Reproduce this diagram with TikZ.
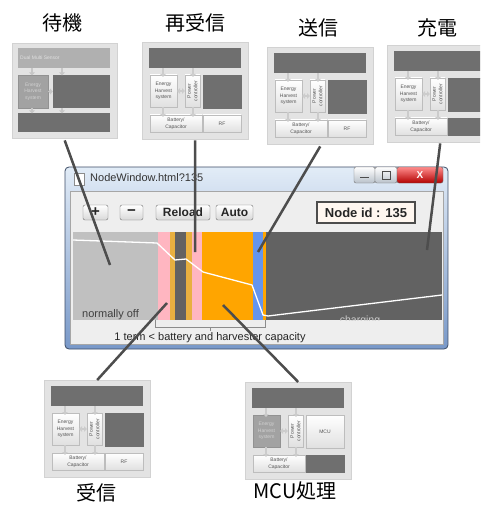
\documentclass[tikz,border=0pt]{standalone}
\usepackage{fontspec}
\setmainfont{Liberation Sans}
\newfontfamily\cjkfont{Noto Sans CJK JP}
\usetikzlibrary{arrows.meta}
\definecolor{thbg}{HTML}{E3E3E3}
\definecolor{thborder}{HTML}{D2D2D2}
\definecolor{thdarkc}{HTML}{6F6F6F}
\definecolor{thgrayc}{HTML}{A2A2A2}
\definecolor{thlightb}{HTML}{BDBDBD}
\definecolor{tharrowc}{HTML}{CCCCCC}
\definecolor{thtextc}{HTML}{555555}
\definecolor{conncol}{HTML}{4D4D4D}
\definecolor{cgray}{HTML}{C0C0C0}
\definecolor{cpink}{HTML}{FFB6C1}
\definecolor{corange}{HTML}{FFA500}
\definecolor{cgold}{HTML}{E8B040}
\definecolor{cdark}{HTML}{626262}
\definecolor{cblue}{HTML}{6495ED}
\definecolor{clientbg}{HTML}{EEEEEE}
\definecolor{frametop}{HTML}{E2ECF7}
\definecolor{framebot}{HTML}{7898C8}
\definecolor{frameedge}{HTML}{3C4C66}
\tikzset{
  thumbouter/.style={draw=thborder, fill=thbg, minimum width=106pt, minimum height=97pt, inner sep=0pt, anchor=north west},
  thl/.style={draw=thlightb, top color=white, bottom color=black!12},
  thd/.style={fill=thdarkc, draw=thdarkc},
  thg/.style={fill=thgrayc, draw=thgrayc!90!black},
  thltext/.style={font=\fontsize{5}{6.5}\selectfont, align=center, text=thtextc, inner sep=0pt},
  thgtext/.style={font=\fontsize{5}{6.5}\selectfont, align=center, text=black!18, inner sep=0pt},
  thdtext/.style={font=\fontsize{5}{6.5}\selectfont, align=center, text=black!18, inner sep=0pt},
  blockarr/.style={line width=2.6pt, draw=tharrowc, -{Triangle[width=5.5pt,length=3pt]}},
  blockdbl/.style={line width=2.6pt, draw=tharrowc, {Triangle[width=5.5pt,length=3pt]}-{Triangle[width=5.5pt,length=3pt]}},
  conn/.style={draw=conncol, line width=2.5pt},
  titletext/.style={font=\cjkfont\fontsize{20}{22}\selectfont, text=black, inner sep=0pt},
  tbtn/.style={draw=black!55, rounded corners=2pt, top color=white, bottom color=black!15, font=\bfseries\fontsize{12}{14}\selectfont, text=black!85, inner sep=0pt, minimum height=15pt},
}
% #1 name, #2 x, #3 y, #4 EH style, #5 right style, #6 right label, #7 RF style, #8 RF label
\newcommand\thumbbox[8]{%
\begin{scope}[shift={(#2,#3)}]
  \node[thumbouter] (#1) at (0,0) {};
  \fill[thdarkc] (7,6) rectangle (99,26);
  \path[#4] (8,33) rectangle (35,65);
  \node[#4text] (#1-eh) at (21.5,49) {Energy\\Harvest\\system};
  \path[thl] (43,33) rectangle (58,65);
  \node[thltext, rotate=90] (#1-pc) at (50.5,49) {Power\\controller};
  \path[#5] (61,33) rectangle (99,66);
  \node[thltext] (#1-r) at (80,49.5) {#6};
  \path[thl] (8,73) rectangle (60,90);
  \node[thltext] (#1-bat) at (34,81.5) {Battery/\\Capacitor};
  \path[#7] (61,73) rectangle (99,90);
  \node[thltext] (#1-rf) at (80,81.5) {#8};
  \draw[blockarr] (21,26) -- (21,35);
  \draw[blockarr] (51,26) -- (51,35);
  \draw[blockdbl] (35,49) -- (43,49);
  \draw[blockarr] (21,65) -- (21,75);
  \draw[blockarr] (51,65) -- (51,75);
\end{scope}}
\begin{document}
\begin{tikzpicture}[x=1pt,y=-1pt]
\useasboundingbox (0,0) rectangle (480,505);
\fill[white] (0,0) rectangle (480,505);
\begin{scope}
\clip (0,0) rectangle (480,505);
% titles
\node[titletext] (t-standby) at (62,23) {待機};
\node[titletext] (t-rerecv) at (195,23) {再受信};
\node[titletext] (t-send) at (318,28) {送信};
\node[titletext] (t-charge) at (437,28) {充電};
\node[titletext] (t-recv) at (96,493) {受信};
\node[titletext] (t-mcu) at (295,491) {MCU処理};
% standby thumbnail
\begin{scope}[shift={(12,43)}]
  \node[thumbouter, minimum width=105pt, minimum height=95pt] (standby) at (0,0) {};
  \fill[thgrayc!85!white] (6,5) rectangle (98,25);
  \node[thdtext, anchor=west, text=black!12] (standby-top) at (8,15) {Dual Multi Sensor};
  \path[thg] (6,32) rectangle (36,65);
  \node[thgtext] (standby-eh) at (21,48.5) {Energy\\Harvest\\system};
  \fill[thdarkc] (41,32) rectangle (98,65);
  \fill[thdarkc] (6,70) rectangle (98,89);
  \draw[blockarr, draw=black!22] (20,25) -- (20,32.5);
  \draw[blockarr, draw=black!22] (50,25) -- (50,32.5);
  \draw[blockarr, draw=black!22] (20,65) -- (20,70.5);
  \draw[blockarr, draw=black!22] (50,65) -- (50,70.5);
  \draw[blockdbl, draw=black!22] (36,48.5) -- (41,48.5);
\end{scope}
\thumbbox{rerecv}{142}{42}{thl}{thd}{}{thl}{RF}
\thumbbox{send}{267}{47}{thl}{thd}{}{thl}{RF}
\thumbbox{charge}{387}{45}{thl}{thd}{}{thd}{}
\thumbbox{recv}{44}{380}{thl}{thd}{}{thl}{RF}
\thumbbox{mcu}{245}{382}{thg}{thl}{MCU}{thd}{}
% window
\path[rounded corners=4pt, top color=frametop, bottom color=framebot, draw=frameedge, line width=0.8pt] (65,167) rectangle (448,349);
\filldraw[fill=clientbg, draw=black!35] (70,191) rectangle (443,344);
\filldraw[fill=white, draw=black!45] (74,173) rectangle (84,185);
\node[anchor=west, font=\fontsize{11}{13}\selectfont, text=black!80, inner sep=0pt] (wtitle) at (90,178) {NodeWindow.html?135};
\path[rounded corners=2pt, top color=white, bottom color=black!18!frametop, draw=black!55] (354,167) rectangle (375,183);
\path[rounded corners=2pt, top color=white, bottom color=black!18!frametop, draw=black!55] (375,167) rectangle (397,183);
\path[rounded corners=2pt, top color=red!45!white, bottom color=red!70!black, draw=black!60] (397,167) rectangle (443,183);
\draw[black!70, line width=1.6pt] (360,177.5) -- (369,177.5);
\draw[black!70, line width=1pt] (382,171.5) rectangle (390,179);
\node[font=\bfseries\fontsize{10}{12}\selectfont, text=white, inner sep=0pt] (wclose) at (420,175.5) {X};
% toolbar
\node[tbtn, minimum width=25pt, font=\bfseries\fontsize{15}{15}\selectfont] (bplus) at (95.5,212.5) {+};
\node[tbtn, minimum width=23pt, font=\bfseries\fontsize{15}{15}\selectfont] (bminus) at (131.5,212.5) {−};
\node[tbtn, minimum width=54pt] (breload) at (183,212.5) {Reload};
\node[tbtn, minimum width=37pt] (bauto) at (234.5,212.5) {Auto};
\node[draw=black!70, line width=1.3pt, fill=orange!6, minimum width=98pt, minimum height=21pt, inner sep=0pt, font=\bfseries\fontsize{13}{15}\selectfont, text=black!85] (nodeid) at (366,212.5) {Node id : 135};
% chart
\fill[cgray] (73,232) rectangle (158,320);
\fill[cpink] (158,232) rectangle (170,320);
\fill[cgold] (170,232) rectangle (175,320);
\fill[cdark] (175,232) rectangle (186,320);
\fill[cgold] (186,232) rectangle (192,320);
\fill[cpink] (192,232) rectangle (202,320);
\fill[corange] (202,232) rectangle (253,320);
\fill[cblue] (253,232) rectangle (263,320);
\fill[corange] (263,232) rectangle (266,320);
\fill[cdark] (266,232) rectangle (442,320);
\node[font=\fontsize{11}{13}\selectfont, text=black!75, anchor=west, inner sep=0pt] (noff) at (82,314.5) {normally off};
\node[font=\fontsize{10.5}{12}\selectfont, text=black!20, inner sep=0pt] (charging) at (360,321) {charging};
\fill[clientbg] (72,320.5) rectangle (442,343);
\draw[white, line width=1.3pt, line join=round] (73,240) -- (157,243) -- (175,260) -- (186,259) -- (203,272) -- (252,285) -- (263,315) -- (268,316) -- (442,295);
\draw[black!45, line width=0.8pt] (155,320) -- (155,327) -- (265,327) -- (265,320);
\draw[black!45, line width=0.8pt] (210,327) -- (210,331);
\node[font=\fontsize{11}{13}\selectfont, text=black!85, inner sep=0pt] (caption) at (210,337.5) {1 term < battery and harvester capacity};
% connectors
\coordinate (p-standby) at (110,265);
\coordinate (p-rerecv) at (195,252);
\coordinate (p-send) at (258,252);
\coordinate (p-charge) at (427,250);
\coordinate (p-recv) at (167,303);
\coordinate (p-mcu) at (223,305);
\draw[conn] ([yshift=-2pt]standby.south) -- (p-standby);
\draw[conn] ([yshift=-1pt]rerecv.south) -- (p-rerecv);
\draw[conn] ([yshift=-2pt]send.south) -- (p-send);
\draw[conn] ([yshift=-1pt]charge.south) -- (p-charge);
\draw[conn] (recv.north) -- (p-recv);
\draw[conn] (mcu.north) -- (p-mcu);
\end{scope}
\end{tikzpicture}
\end{document}
